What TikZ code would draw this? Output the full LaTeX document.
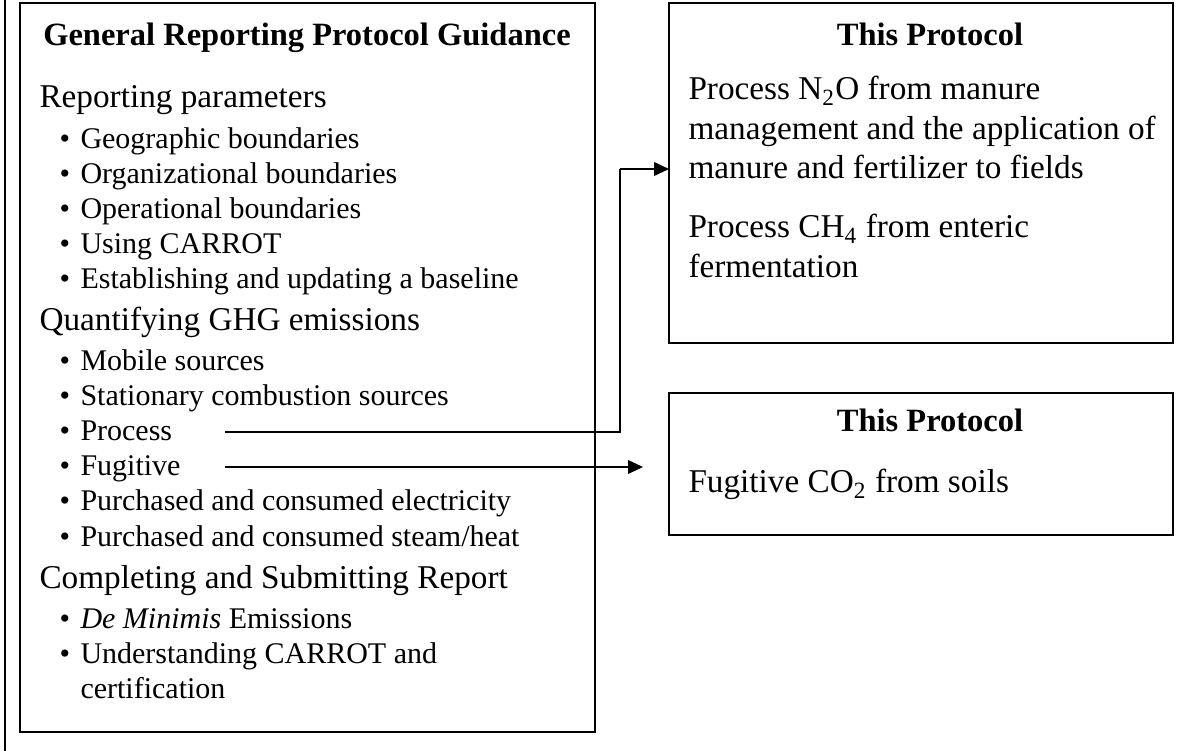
\documentclass[tikz,border=0pt]{standalone}
\usepackage{fontspec}
\setmainfont{Liberation Serif}
\usetikzlibrary{arrows.meta}
\begin{document}
\begin{tikzpicture}[x=0.4pt,y=-0.4pt,
  boxline/.style={draw=black,line width=0.8pt},
  conn/.style={draw=black,line width=0.6pt},
  arr/.style={conn,-{Triangle[length=6pt,width=5.5pt]}},
  ttl/.style={font=\fontsize{13}{15}\selectfont\bfseries,anchor=base,inner sep=0pt},
  head/.style={font=\fontsize{13.3}{15}\selectfont,anchor=base west,inner sep=0pt},
  item/.style={font=\fontsize{12}{14}\selectfont,anchor=base west,inner sep=0pt},
  bul/.style={font=\fontsize{12}{14}\selectfont,anchor=base west,inner sep=0pt},
  body/.style={font=\fontsize{13.3}{16}\selectfont,anchor=base west,inner sep=0pt}]
\useasboundingbox (0,0) rectangle (1180,751);
% outer left rule
\draw[conn] (5,0) -- (5,751);
% boxes
\draw[boxline] (20,3) rectangle (595,732);
\draw[boxline] (669,3) rectangle (1173,343);
\draw[boxline] (669,393) rectangle (1173,535);
% left box text
\node[ttl] (t1) at (307,46) {General Reporting Protocol Guidance};
\node[head] (h1) at (39,108) {Reporting parameters};
\node[bul] (bgeo) at (59,149) {\textbullet};  \node[item] (geo) at (80,149) {Geographic boundaries};
\node[bul] (borg) at (59,184) {\textbullet};  \node[item] (org) at (80,184) {Organizational boundaries};
\node[bul] (bop)  at (59,219) {\textbullet};  \node[item] (op)  at (80,219) {Operational boundaries};
\node[bul] (buse) at (59,254) {\textbullet};  \node[item] (use) at (80,254) {Using CARROT};
\node[bul] (best) at (59,289) {\textbullet};  \node[item] (est) at (80,289) {Establishing and updating a baseline};
\node[head] (h2) at (39,331) {Quantifying GHG emissions};
\node[bul] (bmob) at (59,371) {\textbullet};  \node[item] (mob) at (80,371) {Mobile sources};
\node[bul] (bsta) at (59,406) {\textbullet};  \node[item] (sta) at (80,406) {Stationary combustion sources};
\node[bul] (bpro) at (59,441) {\textbullet};  \node[item] (pro) at (80,441) {Process};
\node[bul] (bfug) at (59,476) {\textbullet};  \node[item] (fug) at (80,476) {Fugitive};
\node[bul] (bele) at (59,511) {\textbullet};  \node[item] (ele) at (80,511) {Purchased and consumed electricity};
\node[bul] (bste) at (59,546) {\textbullet};  \node[item] (ste) at (80,546) {Purchased and consumed steam/heat};
\node[head] (h3) at (39,588) {Completing and Submitting Report};
\node[bul] (bdem) at (59,628) {\textbullet};  \node[item] (dem) at (80,628) {\textit{De Minimis} Emissions};
\node[bul] (bund) at (59,663) {\textbullet};  \node[item] (und) at (80,663) {Understanding CARROT and};
\node[item] (cert) at (80,698) {certification};
% right top box
\node[ttl] (t2) at (930,46) {This Protocol};
\node[body] (r1) at (688,100) {Process N\textsubscript{2}O from manure};
\node[body] (r2) at (688,140) {management and the application of};
\node[body] (r3) at (688,179) {manure and fertilizer to fields};
\node[body] (r4) at (688,238) {Process CH\textsubscript{4} from enteric};
\node[body] (r5) at (688,278) {fermentation};
% right bottom box
\node[ttl] (t3) at (930,432) {This Protocol};
\node[body] (r6) at (688,493) {Fugitive CO\textsubscript{2} from soils};
% connectors
\coordinate (ps) at (225,432);
\coordinate (pc) at (620,432);
\coordinate (pt) at (620,169);
\coordinate (pe) at (669,169);
\draw[conn] (ps) -- (pc) -- (pt);
\draw[arr] (pt) -- (pe);
\coordinate (fs) at (225,467);
\coordinate (fe) at (643,467);
\draw[arr] (fs) -- (fe);
\end{tikzpicture}
\end{document}
